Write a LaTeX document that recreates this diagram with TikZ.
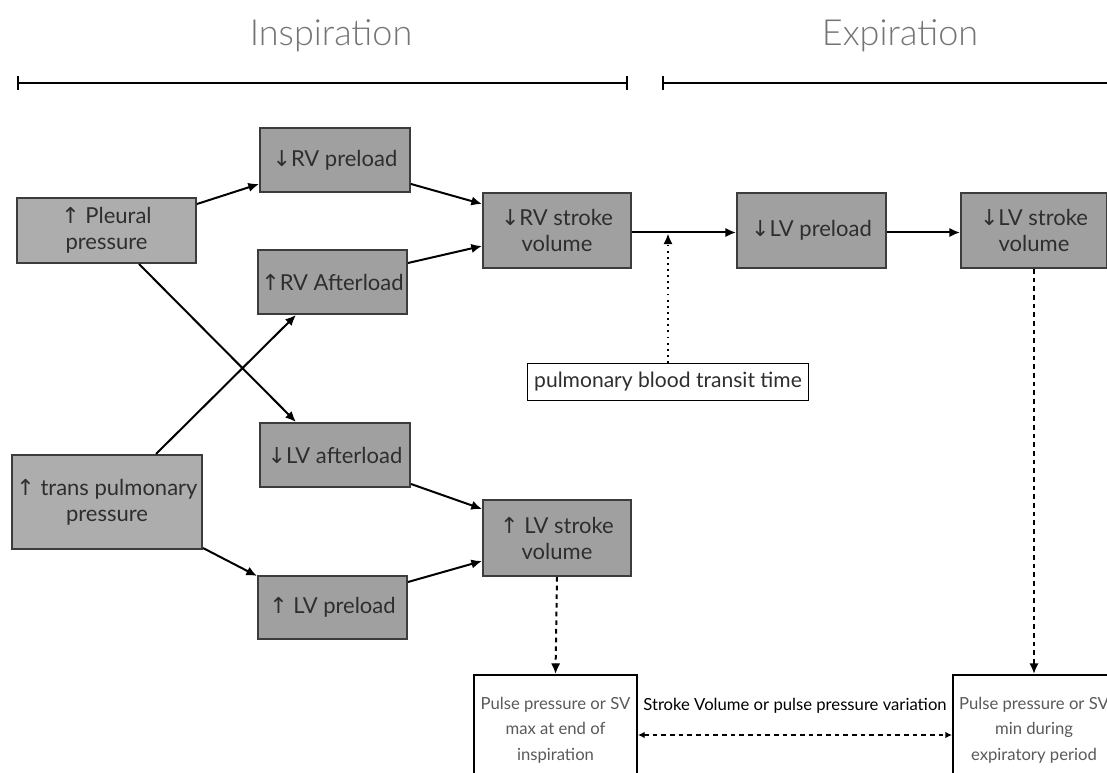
\documentclass[tikz,border=0pt]{standalone}
\usepackage{fontspec}
\setmainfont{Lato}
\newfontfamily\symfont{DejaVu Sans}
\newfontfamily\titlefont{Lato Light}
\usetikzlibrary{arrows.meta,calc}
\newcommand{\uarr}{{\symfont\char"2191}}
\newcommand{\darr}{{\symfont\char"2193}}
\definecolor{boxlight}{HTML}{ADADAD}
\definecolor{boxdark}{HTML}{A0A0A0}
\definecolor{boxline}{HTML}{3C3C3C}
\definecolor{boxtext}{HTML}{2E2E2E}
\definecolor{titlegray}{HTML}{747474}
\definecolor{smalltext}{HTML}{5A5A5A}
\begin{document}
\begin{tikzpicture}[x=0.75pt,y=-0.75pt,
  gbox/.style={draw=boxline,line width=1.5pt,fill=boxdark,text=boxtext,align=center,font=\fontsize{16.5}{19.5}\selectfont,inner sep=2pt},
  lbox/.style={gbox,fill=boxlight},
  wbox/.style={draw=black,line width=1.5pt,fill=white,text=smalltext,align=center,font=\fontsize{12.5}{19}\selectfont,inner sep=2pt},
  arr/.style={line width=1.5pt,-{Latex[length=8pt,width=7pt]}},
  dasharr/.style={arr,dash pattern=on 3.5pt off 3pt},
  dotarr/.style={arr,dash pattern=on 1.4pt off 3.2pt},
  brk/.style={line width=1.5pt,{Bar[width=10pt]}-{Bar[width=10pt]}},
  title/.style={text=titlegray,font=\titlefont\fontsize{27}{32}\selectfont}]
\useasboundingbox (0,0) rectangle (1107,773);
\clip (0,0) rectangle (1107,773);

% titles and brackets
\node[title] (tin) at (331,36) {Inspiration};
\node[title] (tex) at (900,36) {Expiration};
\coordinate (b1a) at (17,83);
\coordinate (b1b) at (628,83);
\coordinate (b2a) at (662,83);
\coordinate (b2b) at (1125,83);
\draw[brk] (b1a) -- (b1b);
\draw[brk] (b2a) -- (b2b);

% boxes
\node[lbox,minimum width=134.25pt,minimum height=48.75pt] (pleural) at (106.5,230.5) {\uarr\ Pleural\\pressure};
\node[lbox,minimum width=142.5pt,minimum height=70.5pt] (trans) at (107,502) {\uarr\ trans pulmonary\\pressure};
\node[gbox,minimum width=112.5pt,minimum height=48pt] (rvpre) at (335,160) {\darr RV preload};
\node[gbox,minimum width=111.75pt,minimum height=48pt] (rvafter) at (332.5,282) {\uarr RV Afterload};
\node[gbox,minimum width=112.5pt,minimum height=48pt] (lvafter) at (335,455) {\darr LV afterload};
\node[gbox,minimum width=111.75pt,minimum height=47.25pt] (lvpre) at (332.5,607.5) {\uarr\ LV preload};
\node[gbox,minimum width=111pt,minimum height=56.25pt] (rvsv) at (557,230.5) {\darr RV stroke\\volume};
\node[gbox,minimum width=111pt,minimum height=57pt] (lvsv) at (557,538) {\uarr\ LV stroke\\volume};
\node[gbox,minimum width=111.75pt,minimum height=56.25pt] (lvpre2) at (811.5,230.5) {\darr LV preload};
\node[gbox,minimum width=109.5pt,minimum height=56.25pt] (lvsv2) at (1034,230.5) {\darr LV stroke\\volume};
\node[draw=black,line width=0.8pt,fill=white,text=boxtext,font=\fontsize{15.8}{18}\selectfont,minimum width=211pt,minimum height=27.75pt,inner sep=2pt] (transit) at (668,382) {pulmonary blood transit time};
\node[wbox,minimum width=122.25pt,minimum height=82.5pt] (maxbox) at (555.5,730) {Pulse pressure or SV\\max at end of\\inspiration};
\node[wbox,minimum width=121.5pt,minimum height=82.5pt] (minbox) at (1034,730) {Pulse pressure or SV\\min during\\expiratory period};

% connectors
\draw[arr] ($(pleural.north east)+(0,7)$) -- ($(rvpre.south west)+(0,-9)$);
\draw[arr] ($(rvpre.south east)+(0,-9)$) -- ($(rvsv.north west)+(0,12)$);
\draw[arr] ($(rvafter.north east)+(0,14)$) -- ($(rvsv.south west)+(0,-23)$);
\draw[arr] ($(pleural.south west)+(123,0)$) -- ($(lvafter.north west)+(37,0)$);
\draw[arr] ($(trans.north west)+(145,0)$) -- ($(rvafter.south west)+(39,0)$);
\draw[arr] ($(trans.south east)+(0,-2)$) -- ($(lvpre.north west)+(0,1)$);
\draw[arr] ($(lvafter.south east)+(0,-4)$) -- ($(lvsv.north west)+(0,10)$);
\draw[arr] ($(lvpre.north east)+(0,7)$) -- ($(lvsv.south west)+(0,-16)$);
\draw[arr] ($(rvsv.east)+(0,2)$) -- ($(lvpre2.west)+(0,2)$);
\draw[arr] ($(lvpre2.east)+(0,2)$) -- ($(lvsv2.west)+(0,2)$);
\draw[dotarr] (transit.north) -- ($(transit.north |- rvsv.east)+(0,3)$);
\draw[dasharr] (lvsv.south) -- (maxbox.north);
\draw[dasharr] (lvsv2.south) -- (minbox.north);
\draw[line width=1.5pt,dash pattern=on 3.5pt off 3pt,{Latex[length=5pt,width=5pt]}-{Latex[length=5pt,width=5pt]}] ($(maxbox.east)+(0,5)$) -- ($(minbox.west)+(0,5)$);
\node[text=black,font=\fontsize{12.5}{15}\selectfont] (svlabel) at (795,706) {Stroke Volume or pulse pressure variation};
\end{tikzpicture}
\end{document}
